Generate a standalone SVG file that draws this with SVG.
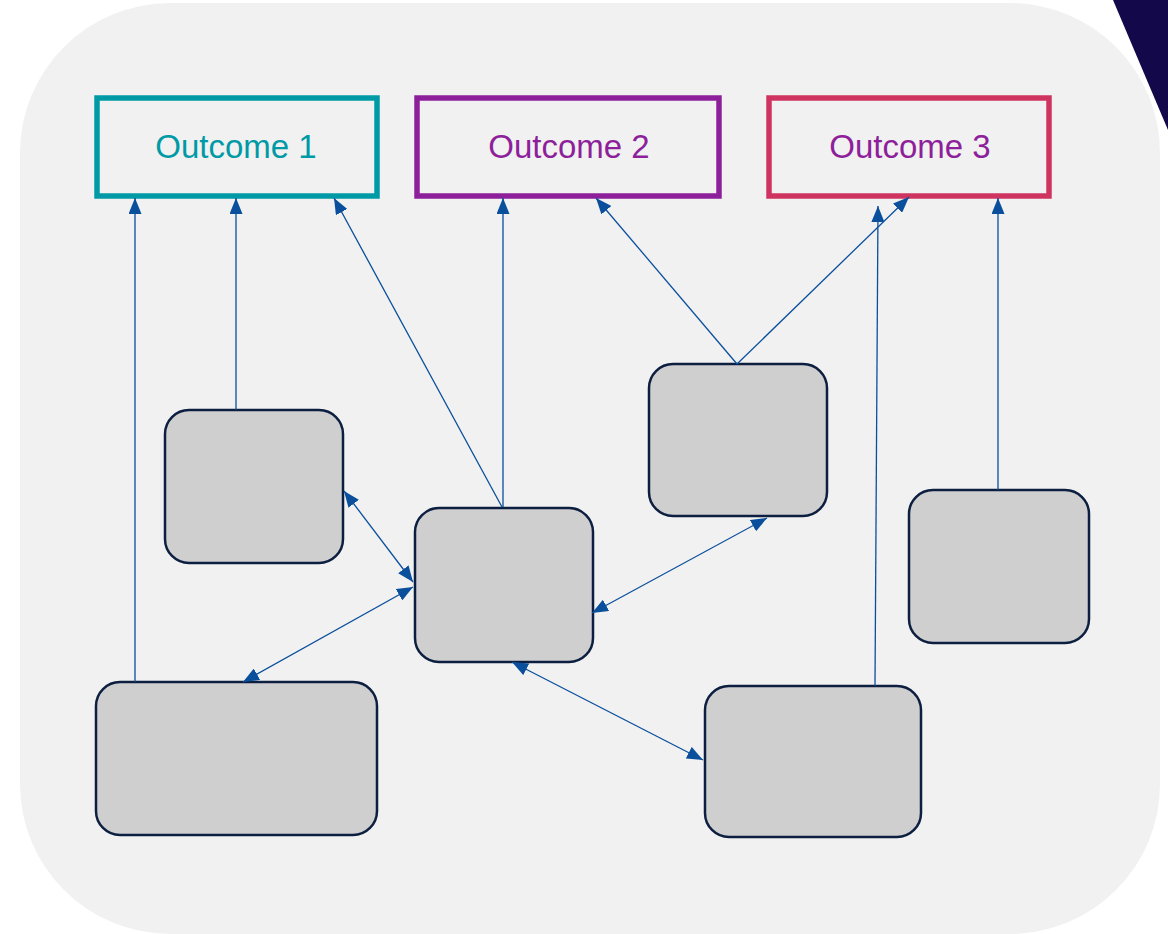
<svg xmlns="http://www.w3.org/2000/svg" width="1168" height="934" viewBox="0 0 1168 934">
  <defs>
    <marker id="head" markerUnits="userSpaceOnUse" markerWidth="16" markerHeight="13" refX="16" refY="6.5" orient="auto-start-reverse">
      <path d="M0,0 L16,6.5 L0,13 z" fill="#0a4f9c"/>
    </marker>
  </defs>
  <style>
    .outcome { fill: none; stroke-width: 5.5; }
    .label { font-family: "Liberation Sans", Arial, sans-serif; font-size: 33px; text-anchor: middle; }
    .box { fill: #d0cfd0; stroke: #0d1f40; stroke-width: 2.5; }
    .link { fill: none; stroke: #0a4f9c; stroke-width: 1.3; }
    .one { marker-end: url(#head); }
    .two { marker-start: url(#head); marker-end: url(#head); }
  </style>

  <!-- backdrop panel and corner accent -->
  <rect x="20" y="3" width="1140" height="931" rx="150" ry="150" fill="#f1f1f1"/>
  <polygon points="1113,0 1168,0 1168,130" fill="#13084a"/>

  <!-- outcomes -->
  <g id="outcome-1">
    <rect class="outcome" x="97" y="98" width="280" height="98" stroke="#009aa6"/>
    <text class="label" x="236" y="158" fill="#009aa6">Outcome 1</text>
  </g>
  <g id="outcome-2">
    <rect class="outcome" x="417" y="98" width="302" height="98" stroke="#8e1f9b"/>
    <text class="label" x="569" y="158" fill="#8e1f9b">Outcome 2</text>
  </g>
  <g id="outcome-3">
    <rect class="outcome" x="769" y="98" width="280" height="98" stroke="#cf3461"/>
    <text class="label" x="910" y="158" fill="#8e1f9b">Outcome 3</text>
  </g>

  <!-- factor boxes -->
  <g id="box-a"><rect class="box" x="165" y="410" width="178" height="153" rx="24"/></g>
  <g id="box-b"><rect class="box" x="415" y="508" width="178" height="154" rx="24"/></g>
  <g id="box-c"><rect class="box" x="649" y="364" width="178" height="152" rx="24"/></g>
  <g id="box-d"><rect class="box" x="909" y="490" width="180" height="153" rx="24"/></g>
  <g id="box-e"><rect class="box" x="96" y="682" width="281" height="153" rx="24"/></g>
  <g id="box-f"><rect class="box" x="705" y="686" width="216" height="151" rx="24"/></g>

  <!-- connectors -->
  <g id="connectors">
    <line class="link one" x1="135" y1="682" x2="135" y2="198"/>
    <line class="link one" x1="236" y1="410" x2="236" y2="198"/>
    <line class="link one" x1="502" y1="507" x2="334" y2="198"/>
    <line class="link one" x1="503" y1="507" x2="503" y2="198"/>
    <line class="link one" x1="737" y1="364" x2="596" y2="198"/>
    <line class="link one" x1="737" y1="364" x2="909" y2="197"/>
    <line class="link one" x1="875" y1="686" x2="878" y2="206"/>
    <line class="link one" x1="998" y1="490" x2="998" y2="198"/>
    <line class="link two" x1="344" y1="491" x2="413" y2="582"/>
    <line class="link two" x1="243" y1="682" x2="413" y2="587"/>
    <line class="link two" x1="592" y1="613" x2="767" y2="518"/>
    <line class="link two" x1="512" y1="662" x2="703" y2="760"/>
  </g>
</svg>
